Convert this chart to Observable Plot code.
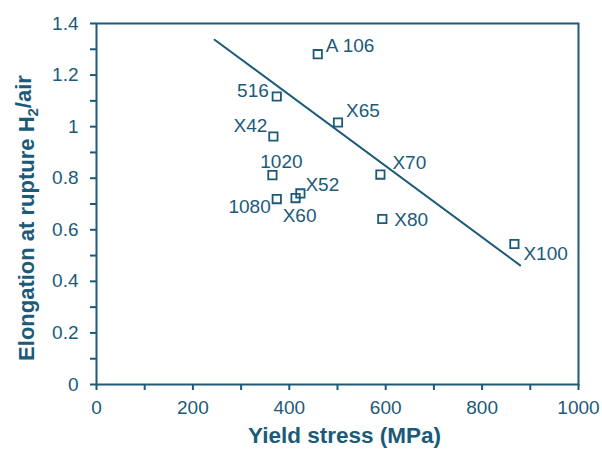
<!DOCTYPE html>
<html>
<head>
<meta charset="utf-8">
<script src="https://cdn.jsdelivr.net/npm/d3@7"></script>
<script src="https://cdn.jsdelivr.net/npm/@observablehq/plot@0.6"></script>
<style>
  html, body { margin: 0; padding: 0; background: #fff; }
  #chart { width: 602px; height: 452px; }
</style>
</head>
<body>
<div id="chart"></div>
<script>
// ---- data ----
const grades = ["A 106", "516", "X42", "1020", "1080", "X60", "X52", "X65", "X70", "X80", "X100"];
const yieldStress = [459, 374, 367, 365, 374, 413, 423, 501, 589, 593, 867];
const elongation = [1.281, 1.117, 0.962, 0.812, 0.719, 0.723, 0.741, 1.016, 0.814, 0.642, 0.545];
const trendX = [245, 879];
const trendY = [1.337, 0.462];
const xTicks = [0, 100, 200, 300, 400, 500, 600, 700, 800, 900, 1000];
const yTicks = [0, 0.1, 0.2, 0.3, 0.4, 0.5, 0.6, 0.7, 0.8, 0.9, 1.0, 1.1, 1.2, 1.3, 1.4];

// ---- label placement (style, not data) ----
const place = {
  "A 106": {dx: 8, dy: -8, a: "start"},
  "516": {dx: -8, dy: -6, a: "end"},
  "X42": {dx: -6, dy: -11, a: "end"},
  "1020": {dx: 9, dy: -13, a: "middle"},
  "1080": {dx: -6, dy: 8, a: "end"},
  "X60": {dx: 4, dy: 18, a: "middle"},
  "X52": {dx: 5, dy: -9, a: "start"},
  "X65": {dx: 8, dy: -12, a: "start"},
  "X70": {dx: 12, dy: -12, a: "start"},
  "X80": {dx: 12, dy: 1, a: "start"},
  "X100": {dx: 9, dy: 10, a: "start"}
};

const points = grades.map((g, i) => ({grade: g, x: yieldStress[i], y: elongation[i]}));
const trend = trendX.map((x, i) => ({x, y: trendY[i]}));
const C = "#1b5a79";

const labelMarks = ["start", "middle", "end"].flatMap(anchor =>
  points.filter(p => place[p.grade].a === anchor).map(p =>
    Plot.text([p], {
      x: "x", y: "y", text: "grade",
      dx: place[p.grade].dx, dy: place[p.grade].dy,
      textAnchor: anchor, fontSize: 19, fill: C
    })
  )
);

const chart = Plot.plot({
  width: 602,
  height: 452,
  marginLeft: 96,
  marginRight: 24,
  marginTop: 23,
  marginBottom: 68,
  style: {fontFamily: "'Liberation Sans', Arial, sans-serif", fontSize: "19px", color: C, background: "#fff"},
  x: {domain: [0, 1000]},
  y: {domain: [0, 1.4]},
  marks: [
    Plot.frame({stroke: C, strokeWidth: 2}),
    Plot.axisX({
      ticks: xTicks, tickSize: 6, tickPadding: 10, strokeWidth: 2,
      tickFormat: d => (d % 200 === 0 ? String(d) : ""),
      label: null, fontSize: 19
    }),
    Plot.axisY({
      ticks: yTicks, tickSize: 6, tickPadding: 12, strokeWidth: 2,
      tickFormat: d => (Math.round(d * 10) % 2 === 0 ? String(+d.toFixed(1)) : ""),
      label: null, fontSize: 19
    }),
    Plot.line(trend, {x: "x", y: "y", stroke: C, strokeWidth: 2}),
    Plot.dot(points, {x: "x", y: "y", symbol: "square", r: 4.7, stroke: C, strokeWidth: 1.8, fill: "none"}),
    ...labelMarks,
    Plot.text(["Yield stress (MPa)"], {frameAnchor: "bottom", dx: 7, dy: 58, fontSize: 22.5, fontWeight: "bold", fill: C}),
    Plot.text(["Elongation at rupture H2/air"], {frameAnchor: "left", textAnchor: "middle", dx: -70, dy: 14, rotate: -90, fontSize: 22, fontWeight: "bold", fill: C})
  ]
});

document.getElementById("chart").appendChild(chart);

// render the subscript in the y title
d3.select(chart).selectAll("text").each(function() {
  const t = d3.select(this);
  if (t.text() === "Elongation at rupture H2/air") {
    t.text(null);
    t.append("tspan").text("Elongation at rupture H");
    t.append("tspan").attr("font-size", 15).attr("dy", "0.3em").text("2");
    t.append("tspan").attr("dy", "-0.3em").text("/air");
  }
});
</script>
</body>
</html>
